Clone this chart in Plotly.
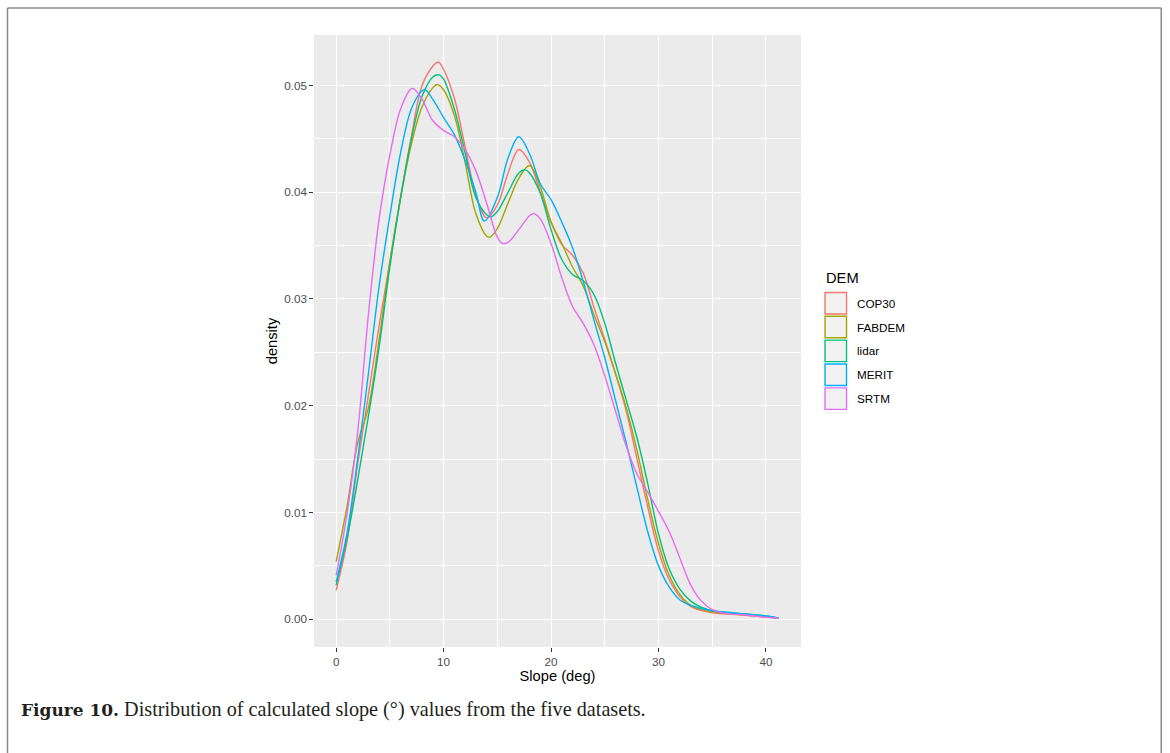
import plotly.graph_objects as go

# ---------------- data ----------------
dem_names = ["COP30", "FABDEM", "lidar", "MERIT", "SRTM"]
dem_colors = ["#F8766D", "#A3A500", "#00BF7D", "#00B0F6", "#E76BF3"]

cop30_x = [0, 1, 2, 3, 4, 5, 6, 7, 8, 9, 9.5, 10, 11, 12, 13, 14, 15, 16, 17, 18, 19, 20, 21, 22, 23, 24, 25, 26, 27, 28, 29, 30, 31, 32, 33, 34, 35, 36, 38, 40, 41.2]
cop30_y = [0.0027, 0.0072, 0.0145, 0.0210, 0.0275, 0.0335, 0.0395, 0.0452, 0.0500, 0.0518, 0.0522, 0.0515, 0.0488, 0.0443, 0.0398, 0.0376, 0.0388, 0.0418, 0.0440, 0.0428, 0.0400, 0.0372, 0.0351, 0.0341, 0.0324, 0.0292, 0.0262, 0.0230, 0.0195, 0.0150, 0.0105, 0.0064, 0.0037, 0.0021, 0.0012, 0.0008, 0.0006, 0.0005, 0.0004, 0.0002, 0.0001]

fabdem_x = [0, 1, 2, 3, 4, 5, 6, 7, 8, 9, 9.4, 10, 11, 12, 13, 14, 14.3, 15, 16, 17, 18, 19, 20, 21, 22, 23, 24, 25, 26, 27, 28, 29, 30, 31, 32, 33, 34, 35, 36, 38, 40, 41.2]
fabdem_y = [0.0054, 0.0105, 0.0165, 0.0198, 0.0262, 0.0335, 0.0395, 0.0445, 0.0480, 0.0498, 0.0501, 0.0496, 0.0472, 0.0428, 0.0380, 0.0359, 0.0358, 0.0366, 0.0390, 0.0413, 0.0425, 0.0405, 0.0372, 0.0352, 0.0330, 0.0312, 0.0285, 0.0260, 0.0230, 0.0198, 0.0158, 0.0112, 0.0071, 0.0041, 0.0023, 0.0013, 0.0009, 0.0007, 0.0006, 0.0004, 0.0002, 0.0001]

lidar_x = [0, 1, 2, 3, 4, 5, 6, 7, 8, 9, 9.6, 10, 11, 12, 13, 14, 14.4, 15, 16, 17, 17.6, 18, 19, 20, 21, 22, 23, 24, 25, 26, 27, 28, 29, 30, 31, 32, 33, 34, 35, 36, 38, 40, 41.2]
lidar_y = [0.0032, 0.0075, 0.0130, 0.0190, 0.0255, 0.0330, 0.0395, 0.0450, 0.0490, 0.0508, 0.0510, 0.0506, 0.0478, 0.0437, 0.0395, 0.0379, 0.0377, 0.0382, 0.0400, 0.0418, 0.0421, 0.0418, 0.0399, 0.0365, 0.0337, 0.0323, 0.0317, 0.0304, 0.0277, 0.0240, 0.0205, 0.0170, 0.0127, 0.0080, 0.0047, 0.0028, 0.0017, 0.0011, 0.0008, 0.0006, 0.0005, 0.0003, 0.0001]

merit_x = [0, 1, 2, 3, 4, 5, 6, 7, 8, 8.3, 9, 10, 11, 12, 13, 13.8, 15, 16, 17, 18, 19, 20, 21, 22, 23, 24, 25, 26, 27, 28, 29, 30, 31, 32, 33, 34, 35, 36, 38, 40, 41.2]
merit_y = [0.0035, 0.0080, 0.0150, 0.0230, 0.0312, 0.0378, 0.0437, 0.0478, 0.0495, 0.0496, 0.0487, 0.0470, 0.0454, 0.0430, 0.0400, 0.0373, 0.0395, 0.0432, 0.0452, 0.0436, 0.0408, 0.0393, 0.0372, 0.0348, 0.0316, 0.0280, 0.0245, 0.0205, 0.0165, 0.0123, 0.0082, 0.0050, 0.0030, 0.0018, 0.0013, 0.0010, 0.0008, 0.0007, 0.0005, 0.0003, 0.0001]

srtm_x = [0, 1, 2, 3, 4, 5, 6, 7, 7.2, 8, 9, 10, 11, 12, 13, 14, 15, 15.5, 16, 17, 18, 18.4, 19, 20, 21, 22, 23, 24, 25, 26, 27, 28, 29, 30, 31, 32, 33, 34, 35, 36, 38, 40, 41.2]
srtm_y = [0.0041, 0.0098, 0.0175, 0.0285, 0.0375, 0.0435, 0.0478, 0.0497, 0.0497, 0.0487, 0.0467, 0.0458, 0.0452, 0.0440, 0.0420, 0.0390, 0.0358, 0.0352, 0.0353, 0.0365, 0.0378, 0.0380, 0.0375, 0.0352, 0.0320, 0.0293, 0.0277, 0.0257, 0.0228, 0.0195, 0.0162, 0.0136, 0.0119, 0.0101, 0.0082, 0.0057, 0.0032, 0.0017, 0.0009, 0.0006, 0.0004, 0.0002, 0.0001]

series_x = [cop30_x, fabdem_x, lidar_x, merit_x, srtm_x]
series_y = [cop30_y, fabdem_y, lidar_y, merit_y, srtm_y]

x_ticks = [0, 10, 20, 30, 40]
y_ticks = [0.00, 0.01, 0.02, 0.03, 0.04, 0.05]
y_tick_labels = ["0.00", "0.01", "0.02", "0.03", "0.04", "0.05"]

x_title = "Slope (deg)"
y_title = "density"
legend_title = "DEM"
caption_bold = "Figure 10."
caption_text = " Distribution of calculated slope (°) values from the five datasets."

# ---------------- layout geometry (pixels) ----------------
FIG_W, FIG_H = 1170, 753
L, R, T, B = 314.3, 369.0, 35.0, 106.3
PW = FIG_W - L - R
PH = FIG_H - T - B


def px_x(px):
    return (px - L) / PW


def px_y(py):
    return 1 - (py - T) / PH


fig = go.Figure()
for name, color, xs, ys in zip(dem_names, dem_colors, series_x, series_y):
    fig.add_trace(go.Scatter(
        x=xs, y=ys, mode="lines", name=name,
        line=dict(color=color, width=1.4, shape="spline", smoothing=1.0),
        showlegend=False, hoverinfo="x+y+name",
    ))

axis_common = dict(
    showline=False, zeroline=False,
    showgrid=True, gridcolor="white", gridwidth=1.1,
    ticks="outside", ticklen=3.7, tickwidth=1.1, tickcolor="#333333",
    tickfont=dict(family="Liberation Sans, Arial, sans-serif", size=11.7, color="#4D4D4D"),
)

fig.update_xaxes(
    **axis_common,
    range=[-2.06, 43.26],
    tickmode="array", tickvals=x_ticks, ticktext=[str(v) for v in x_ticks],
    minor=dict(tickmode="array", tickvals=[5, 15, 25, 35], showgrid=True,
               gridcolor="white", gridwidth=0.55, ticks=""),
    title=dict(text=x_title, standoff=1,
               font=dict(family="Liberation Sans, Arial, sans-serif", size=14.7, color="black")),
)
fig.update_yaxes(
    **axis_common,
    range=[-0.0026, 0.05473],
    tickmode="array", tickvals=y_ticks, ticktext=y_tick_labels,
    minor=dict(tickmode="array", tickvals=[0.005, 0.015, 0.025, 0.035, 0.045], showgrid=True,
               gridcolor="white", gridwidth=0.55, ticks=""),
    title=dict(text=y_title, standoff=3,
               font=dict(family="Liberation Sans, Arial, sans-serif", size=14.7, color="black")),
)

shapes = []
annotations = []

# manual ggplot-style legend
leg_x0, leg_x1 = 825.0, 846.5
key_top0 = 292.3
key_pitch = 23.85
key_h = 21.5
annotations.append(dict(
    x=px_x(824), y=px_y(278), xref="paper", yref="paper", xanchor="left", yanchor="middle",
    text=legend_title, showarrow=False,
    font=dict(family="Liberation Sans, Arial, sans-serif", size=14.7, color="black"),
))
for i, (name, color) in enumerate(zip(dem_names, dem_colors)):
    top = key_top0 + i * key_pitch
    shapes.append(dict(
        type="rect", xref="paper", yref="paper",
        x0=px_x(leg_x0), x1=px_x(leg_x1), y0=px_y(top + key_h), y1=px_y(top),
        fillcolor="#F2F2F2", line=dict(color=color, width=1.4), layer="above",
    ))
    annotations.append(dict(
        x=px_x(855), y=px_y(top + key_h / 2), xref="paper", yref="paper",
        xanchor="left", yanchor="middle", text=name, showarrow=False,
        font=dict(family="Liberation Sans, Arial, sans-serif", size=11.7, color="black"),
    ))

# outer figure frame (left, top, right)
frame_color = "#8A8A8A"
for (x0, y0, x1, y1) in [(8, 8, 8, 760), (8, 8, 1161, 8), (1161, 8, 1161, 760)]:
    shapes.append(dict(
        type="line", xref="paper", yref="paper",
        x0=px_x(x0), y0=px_y(y0), x1=px_x(x1), y1=px_y(y1),
        line=dict(color=frame_color, width=1.5),
    ))

# caption
annotations.append(dict(
    x=px_x(19), y=px_y(709), xref="paper", yref="paper", xanchor="left", yanchor="middle",
    text=('<span style="font-family:\'DejaVu Serif\', serif; font-size:17px; font-weight:bold">'
          + caption_bold + "</span>" + caption_text),
    showarrow=False,
    font=dict(family="Liberation Serif, Times New Roman, serif", size=20.2, color="#231F20"),
))

fig.update_layout(
    width=FIG_W, height=FIG_H,
    margin=dict(l=L, r=R, t=T, b=B, autoexpand=False),
    paper_bgcolor="white", plot_bgcolor="#EBEBEB",
    showlegend=False,
    shapes=shapes, annotations=annotations,
)

fig.write_html("out.html")
